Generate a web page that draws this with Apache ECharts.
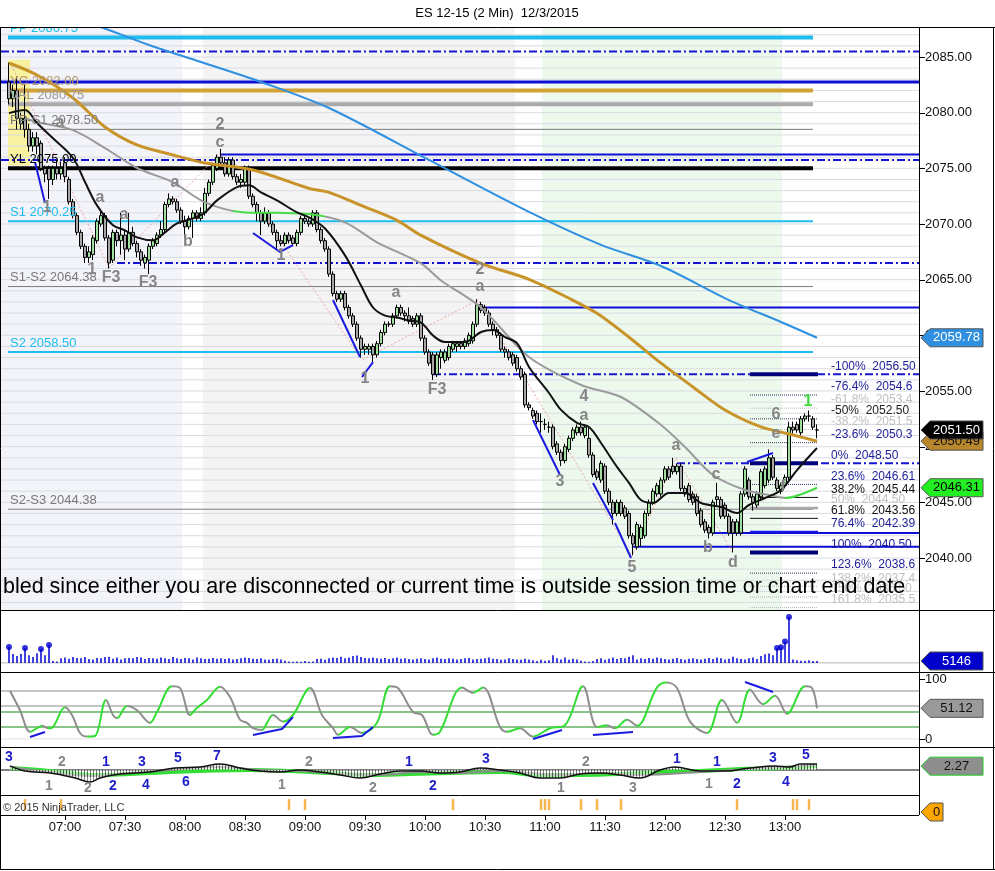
<!DOCTYPE html>
<html><head><meta charset="utf-8">
<script src="https://cdn.jsdelivr.net/npm/echarts@6.0.0/dist/echarts.min.js"></script>
<style>html,body{margin:0;padding:0;background:#fff;}#c{width:995px;height:871px;}</style>
</head><body><div id="c"></div>
<script>
// ---------------- DATA ----------------
const TITLE = 'ES 12-15 (2 Min)  12/3/2015';
const NOTICE = 'bled since either you are disconnected or current time is outside session time or chart end date';
const FIRST_BAR = 1; // bar index of first candle (index 0 = 06:30, 2-minute bars)
// [open, close, low, high]
const ohlc = [
[2082.75,2081.25,2080.75,2084.5],[2081.25,2082.0,2080.5,2082.5],[2082.0,2079.5,2078.5,2083.25],[2079.0,2079.5,2078.5,2080.0],[2079.5,2078.5,2077.75,2082.5],
[2078.5,2077.0,2076.5,2079.0],[2077.0,2077.75,2076.5,2078.25],[2077.75,2077.0,2076.25,2078.25],[2077.25,2075.0,2074.75,2077.5],[2075.0,2074.5,2073.75,2075.25],
[2075.0,2074.0,2072.25,2075.25],[2074.0,2075.0,2073.5,2075.25],[2075.0,2074.5,2074.0,2075.75],[2074.5,2075.0,2074.0,2075.5],[2075.5,2074.25,2073.75,2076.0],
[2074.0,2072.0,2071.75,2074.25],[2072.0,2070.75,2070.5,2072.25],[2070.75,2069.25,2069.0,2071.0],[2069.25,2068.0,2067.75,2069.5],[2068.0,2067.0,2066.5,2068.25],
[2067.0,2067.5,2066.5,2068.0],[2067.25,2068.75,2066.75,2069.0],[2068.5,2070.25,2068.25,2070.5],[2070.0,2070.75,2069.75,2071.25],[2070.75,2068.75,2068.5,2071.0],
[2068.75,2066.5,2066.0,2069.0],[2066.75,2069.25,2066.5,2069.5],[2069.25,2068.5,2068.0,2069.5],[2068.5,2069.0,2067.25,2071.0],[2069.0,2067.75,2066.75,2069.5],
[2067.75,2069.25,2067.5,2071.0],[2069.25,2068.25,2068.0,2069.75],[2068.25,2067.5,2067.0,2068.5],[2067.5,2066.75,2066.25,2067.75],[2066.5,2067.0,2066.0,2067.25],
[2066.75,2068.0,2065.5,2068.25],[2068.0,2068.5,2067.75,2068.75],[2068.25,2069.0,2068.0,2069.25],[2069.0,2069.5,2068.75,2070.25],[2069.5,2071.75,2069.25,2072.0],
[2071.75,2072.25,2071.5,2072.75],[2072.25,2072.0,2071.75,2072.5],[2072.0,2071.25,2071.0,2072.25],[2071.25,2070.25,2070.0,2071.5],[2070.25,2069.75,2068.75,2070.75],
[2069.75,2070.5,2069.5,2070.75],[2070.5,2071.0,2068.75,2071.25],[2071.0,2070.5,2070.25,2071.25],[2070.5,2071.0,2070.25,2071.5],[2071.0,2072.75,2070.75,2073.25],
[2072.75,2073.75,2072.5,2074.0],[2073.75,2075.25,2073.5,2075.5],[2075.0,2076.0,2074.75,2076.25],[2076.0,2075.5,2075.0,2076.75],[2075.5,2074.5,2074.25,2076.0],
[2074.5,2075.75,2074.25,2076.0],[2075.75,2074.25,2074.0,2076.0],[2074.25,2073.75,2073.5,2074.5],[2073.75,2074.0,2073.25,2074.5],[2073.75,2075.0,2073.5,2075.25],
[2075.0,2072.5,2072.25,2075.25],[2072.5,2071.75,2071.5,2072.75],[2071.75,2071.0,2070.25,2072.0],[2071.0,2070.25,2069.0,2071.25],[2070.25,2071.0,2070.0,2071.5],
[2071.0,2070.0,2069.75,2071.25],[2070.0,2069.25,2069.0,2070.25],[2069.25,2068.5,2067.75,2069.5],[2068.5,2068.25,2068.0,2069.0],[2068.25,2069.0,2068.0,2069.25],
[2069.0,2068.5,2068.25,2069.25],[2068.75,2068.25,2068.0,2069.0],[2068.25,2069.25,2068.0,2069.5],[2069.25,2070.5,2069.0,2070.75],[2070.5,2070.25,2070.0,2070.75],
[2070.25,2070.0,2069.75,2070.5],[2070.0,2071.0,2069.75,2071.25],[2071.0,2069.5,2069.25,2071.25],[2069.5,2068.5,2068.25,2069.75],[2068.5,2067.75,2067.5,2068.75],
[2067.75,2065.5,2065.25,2068.0],[2065.5,2063.75,2063.5,2065.75],[2063.75,2063.25,2063.0,2064.0],[2063.25,2063.75,2063.0,2064.0],[2063.75,2062.5,2062.25,2064.0],
[2062.5,2061.75,2061.5,2062.75],[2061.75,2061.0,2060.75,2062.0],[2061.0,2059.75,2059.5,2061.25],[2059.75,2058.75,2058.0,2060.0],[2058.75,2059.0,2058.25,2059.25],
[2058.75,2059.0,2058.25,2059.25],[2059.0,2058.25,2057.5,2059.25],[2058.25,2059.25,2058.0,2059.5],[2059.25,2060.25,2059.0,2060.5],[2060.25,2061.0,2060.0,2061.25],
[2061.0,2061.0,2060.75,2061.25],[2061.0,2061.75,2060.75,2062.0],[2061.75,2062.5,2061.5,2062.75],[2062.5,2062.0,2061.75,2062.75],[2062.0,2061.75,2061.25,2062.25],
[2061.75,2061.25,2061.0,2062.5],[2061.5,2061.0,2060.75,2061.75],[2061.0,2061.75,2060.75,2062.0],[2061.75,2059.75,2059.5,2062.0],[2059.75,2058.5,2058.25,2060.0],
[2058.5,2057.5,2057.25,2058.75],[2058.25,2056.5,2056.0,2058.5],[2056.5,2058.25,2056.25,2058.5],[2058.0,2058.5,2057.0,2058.75],[2057.75,2058.5,2057.5,2058.75],
[2058.0,2059.0,2057.75,2059.25],[2058.75,2059.25,2058.5,2059.5],[2059.0,2059.25,2058.5,2059.5],[2059.25,2059.0,2058.75,2059.5],[2059.0,2059.5,2058.75,2059.75],
[2059.25,2060.0,2059.0,2060.25],[2059.5,2061.0,2059.25,2061.25],[2061.0,2062.75,2060.75,2063.25],[2062.75,2062.25,2062.0,2063.0],[2062.5,2062.0,2061.75,2062.75],
[2062.0,2061.0,2060.75,2062.25],[2061.0,2060.5,2060.0,2061.25],[2060.5,2060.0,2059.75,2060.75],[2060.0,2058.75,2058.5,2060.25],[2058.75,2058.5,2058.0,2059.0],
[2058.5,2058.0,2057.75,2058.75],[2058.25,2057.5,2057.25,2058.5],[2058.0,2057.0,2056.75,2058.25],[2057.0,2056.25,2056.0,2057.25],[2056.5,2053.75,2053.5,2056.75],
[2053.75,2053.5,2053.25,2054.0],[2053.25,2052.75,2052.5,2053.5],[2053.0,2052.25,2052.0,2053.25],[2052.25,2052.25,2051.25,2053.0],[2052.0,2052.0,2051.5,2052.5],
[2051.75,2051.75,2051.25,2052.25],[2051.75,2050.0,2049.75,2052.0],[2050.25,2049.5,2049.25,2050.5],[2049.5,2048.75,2048.25,2049.75],[2048.75,2050.0,2048.5,2050.25],
[2049.75,2050.75,2049.5,2051.0],[2050.75,2051.5,2050.5,2051.75],[2051.25,2051.75,2051.0,2052.0],[2051.75,2051.25,2051.0,2052.25],[2051.0,2051.75,2050.75,2052.0],
[2050.75,2049.25,2049.0,2051.75],[2049.25,2047.5,2047.25,2049.5],[2047.75,2047.25,2047.0,2048.0],[2047.0,2048.5,2046.75,2048.75],[2048.25,2046.0,2045.75,2048.5],
[2046.0,2045.0,2044.75,2046.25],[2045.0,2044.0,2043.0,2045.25],[2044.0,2045.0,2043.75,2045.25],[2045.0,2044.0,2043.75,2045.25],[2044.5,2043.75,2043.5,2044.75],
[2044.0,2042.0,2041.75,2044.25],[2042.0,2041.25,2040.25,2042.25],[2041.0,2043.0,2040.75,2043.25],[2041.75,2042.75,2041.0,2043.0],[2042.0,2044.0,2041.75,2044.25],
[2044.0,2045.0,2043.75,2045.25],[2045.0,2046.0,2044.75,2046.25],[2045.75,2046.5,2045.5,2046.75],[2045.75,2047.0,2045.5,2047.25],[2047.0,2048.0,2046.75,2048.25],
[2048.0,2047.25,2047.0,2048.25],[2048.25,2047.75,2047.5,2049.0],[2047.75,2048.25,2047.5,2048.5],[2048.25,2046.25,2046.0,2048.5],[2046.25,2045.75,2045.5,2046.5],
[2046.5,2045.25,2045.0,2046.75],[2045.75,2045.0,2044.75,2046.0],[2045.5,2044.0,2043.75,2045.75],[2044.25,2043.0,2042.75,2044.5],[2043.25,2042.5,2042.25,2043.5],
[2042.75,2042.25,2041.75,2043.0],[2042.25,2045.0,2042.0,2045.25],[2045.5,2045.25,2044.75,2046.75],[2045.25,2043.75,2043.5,2045.5],[2044.75,2043.75,2043.5,2045.0],
[2043.75,2042.25,2042.0,2044.0],[2043.25,2042.25,2040.5,2043.5],[2042.25,2043.25,2042.0,2043.5],[2042.25,2045.75,2042.0,2046.0],[2045.75,2048.0,2045.5,2048.25],
[2047.0,2045.5,2045.25,2047.25],[2045.5,2045.0,2044.25,2045.75],[2044.75,2045.75,2044.5,2046.0],[2045.5,2047.75,2045.25,2048.0],[2046.5,2048.0,2046.25,2048.25],
[2047.0,2049.0,2046.75,2049.75],[2049.0,2047.25,2047.0,2049.25],[2047.0,2046.25,2046.0,2047.25],[2046.0,2046.5,2045.75,2046.75],[2046.5,2047.25,2046.25,2047.5],
[2047.25,2051.75,2047.0,2052.25],[2051.75,2051.5,2051.0,2052.25],[2052.0,2051.5,2051.25,2052.25],[2051.25,2052.5,2051.0,2052.75],[2052.5,2052.75,2052.25,2053.0],
[2052.75,2052.75,2052.25,2053.25],[2052.5,2051.75,2051.5,2052.75],[2051.5,2051.5,2050.75,2052.0]
];
const volume = [
41000,23000,18000,23000,38000,20000,15000,25000,36000,20000,46000,
5000,4000,12000,14000,11000,15000,13000,12000,15000,10000,
9000,13000,12000,15000,16000,11000,14000,9000,12000,13000,
12000,15000,14000,10000,13000,12000,11000,14000,12000,10000,
15000,12000,10000,13000,12000,9000,14000,12000,10000,11000,
13000,11000,12000,10000,12000,9000,10000,12000,14000,13000,
11000,10000,12000,9000,8000,10000,11000,9000,6000,4000,
3000,4000,3000,5000,3000,4000,10000,11000,8000,12000,
14000,13000,16000,12000,14000,18000,19000,15000,13000,12000,
14000,12000,11000,13000,10000,12000,14000,11000,12000,10000,
9000,11000,12000,10000,9000,12000,14000,11000,10000,12000,
11000,9000,10000,12000,13000,9000,10000,11000,12000,14000,
11000,10000,8000,9000,12000,10000,9000,8000,11000,9000,
7000,5000,8000,6000,7000,20000,12000,9000,14000,8000,
11000,9000,6000,4000,3000,5000,10000,12000,8000,11000,
14000,10000,13000,12000,16000,20000,9000,12000,10000,13000,
11000,14000,12000,10000,9000,11000,13000,10000,8000,11000,
12000,10000,9000,11000,13000,10000,14000,12000,9000,11000,
16000,12000,10000,9000,
12000,14000,10000,18000,22000,24000,20000,38000,40000,55000,117000,9000,7000,6000,6000,7000,5000,5146
];
// moving averages  [barIndex, price]
const maBlue = [[18,2088.4],[26,2087.43],[36,2086.08],[49,2084.55],[64,2082.76],[81,2080.42],[106,2075.75],[131,2071.08],[149,2068.12],[164,2066.23],[181,2063.17],[194,2061.2],[203,2059.78]];
const maGold = [[1,2084.46],[8,2083.38],[17,2081.32],[25,2078.71],[33,2077.1],[42,2076.2],[50,2075.48],[62,2074.85],[76,2073.2],[81,2072.84],[89,2071.67],[98,2070.33],[104,2068.98],[119,2066.47],[131,2065.03],[141,2063.33],[148,2061.98],[156,2059.83],[164,2057.5],[172,2055.36],[180,2053.29],[189,2051.77],[197,2051.05],[203,2050.49]];
const maGray = [[5,2079.52],[8,2079.16],[17,2078.43],[25,2076.82],[33,2075.03],[42,2073.74],[50,2071.94],[60,2071.04],[68,2071.0],[76,2070.9],[85,2070.15],[93,2068.35],[104,2066.46],[109,2064.93],[119,2062.5],[131,2058.05],[144,2055.54],[154,2054.46],[164,2051.95],[170,2049.97],[177,2047.46],[185,2046.11],[191,2045.66],[195,2045.39],[203,2046.31]];
const maGrayUpRanges = [[57,80],[195,204]];
const maBlack = [[1,2079.96],[5,2080.24],[8,2079.07],[12,2077.7],[17,2075.93],[20,2073.77],[23,2071.67],[27,2069.88],[30,2069.43],[33,2068.8],[37,2068.53],[40,2069.25],[43,2070.06],[47,2070.5],[50,2071.04],[53,2072.12],[58,2073.32],[61,2073.47],[64,2072.84],[68,2072.12],[73,2071.04],[76,2070.6],[80,2069.6],[85,2067.18],[89,2064.48],[92,2062.5],[95,2061.77],[98,2061.6],[101,2061.33],[104,2061.15],[107,2059.98],[110,2059.4],[115,2059.4],[119,2060.3],[122,2060.48],[125,2059.85],[128,2059.3],[131,2057.16],[136,2054.82],[139,2053.3],[143,2052.13],[146,2051.77],[149,2050.33],[153,2048.18],[156,2046.74],[159,2045.2],[162,2044.94],[166,2045.84],[170,2045.84],[174,2044.94],[179,2044.58],[183,2044.04],[186,2044.76],[190,2045.39],[194,2046.11],[198,2047.9],[203,2049.88]];
const zigzag = [[1.25,2084.55],[26,2066.05],[53.75,2076.38],[89.25,2057.79],[118.25,2063.17],[156.75,2040.18],[167.75,2048.98],[182,2040.45]];
const trendLines = [
 [[7.5,2075.57],[10,2071.89]],
 [[62,2069.19],[68.75,2067.49],[72,2068.11]],
 [[82,2063.17],[88.75,2058.05]],
 [[89.25,2056.26],[92,2057.6]],
 [[132,2052.4],[138.75,2047.46]],
 [[147,2046.74],[152,2043.41]],
 [[152.5,2043.14],[156.5,2040.0]],
 [[185.5,2048.62],[192,2049.43]]
];
// pivots
const pivotNames = ['PP','YC','VAL','PP-S1','YL','S1','S1-S2','S2','S2-S3'];
const pivotValues = [2086.75,2082.00,2080.75,2078.50,2075.00,2070.25,2064.38,2058.50,2044.38];
// swing levels (start bar)
const dashLevels = [2085.5,2075.75,2066.5,2056.5,2048.5];
const dashStart  = [-1,-1,28,107,168];
const solidLevels = [2082.75,2076.25,2062.5,2042.25,2041.0];
const solidStart  = [-1,54,118,177,157];
// fibonacci
const fibPct = ['-100%','-76.4%','-61.8%','-50%','-38.2%','-23.6%','0%','23.6%','38.2%','50%','61.8%','76.4%','100%','123.6%','138.2%','150%','161.8%'];
const fibValues = [2056.50,2054.64,2053.46,2052.50,2051.54,2050.36,2048.50,2046.61,2045.44,2044.50,2043.56,2042.39,2040.50,2038.64,2037.46,2036.50,2035.54];
const fibKind = ['N','D','L','D','L','D','N','D','S','G','S','B','N','D','L','L','L'];
const fibRange = [186.25,203.25];
// sessions (bar index ranges)
const sessions = [[-1,44.25,'#f3f4f9'],[49.5,127.5,'#f4f4f4'],[134.25,194.25,'#edf9ed']];
const yellowBox = [[0.75,2084.75],[6.25,2075.25]];
// wave labels
const waveText = ['1','a','1','a','F3','a','F3','a','b','2','c','1','1','a','F3','2','a','3','4','a','5','a','b','c','d','6','e','f','1'];
const waveBar  = [10.5,13.75,21.75,23.75,26.5,29.75,35.75,42.5,45.75,53.75,53.75,69,90,97.75,108,118.75,118.75,138.75,144.75,144.75,156.75,167.75,175.75,177.75,182,192.75,192.75,194.5,200.75];
const wavePrice= [2071.44,2079.07,2065.87,2072.34,2065.15,2070.81,2064.7,2073.68,2068.38,2078.89,2077.28,2067.13,2056.08,2063.8,2055.09,2065.87,2064.34,2046.83,2054.46,2052.75,2039.1,2050.06,2040.9,2047.46,2039.55,2052.84,2051.14,2046.38,2054.01];
// stochastic
const stochPts = [[1.25,80],[3.75,48],[6.25,12],[8,18],[9.25,22],[10.75,18],[12,20],[15,53],[16.75,40],[18.75,10],[20.5,4],[22.5,5],[25.25,65],[27,40],[28,35],[30.5,55],[33,48],[36.25,27],[38,45],[41.75,88],[43.75,85],[46.25,40],[48,52],[50.5,65],[53.75,87],[56.25,70],[58.75,32],[60.5,27],[62,18],[64.25,15],[65.5,27],[67,40],[69.5,29],[72,40],[76.25,85],[79.25,40],[82,18],[83.25,7],[86.25,20],[89.25,10],[93,27],[96.25,88],[98.25,85],[102,45],[104.25,40],[107,7],[108.75,12],[114.25,86],[117,77],[119.5,86],[123.75,20],[125.5,12],[128.75,18],[132,4],[136.25,18],[140,23],[144.5,88],[148,20],[150.5,23],[152.5,18],[155.5,32],[158,22],[163,86],[165.5,94],[168,85],[171.25,29],[175.5,10],[179.25,65],[183,27],[186.25,82],[189.5,58],[192.5,72],[195.5,42],[200,88],[201.75,85],[203,51.12]];
const stochLevels = [80,55,45,20,0];
const stochTrend = [
 [[6.25,3.3],[10,11.7]],
 [[62,6.7],[69.25,16.7],[72,36.7]],
 [[82,1.7],[89.25,5],[92,20]],
 [[132,0],[139.25,15]],
 [[147,6.7],[157,11.7]],
 [[185,95],[192,78.3]]
];
// oscillator
const oscGreen = [[1.25,1.2],[8.75,0],[16.25,-1.8],[23.75,-2.9],[31.25,-2.4],[41.25,-1.2],[48.75,-0.6],[61.25,0],[71.25,-0.6],[81.25,-1.8],[91.25,-2.9],[101.25,-2.4],[111.25,-1.8],[123.75,-1.2],[133.75,-2.9],[143.75,-2.9],[153.75,-2.4],[163.75,-1.2],[173.75,-0.6],[183.75,0.6],[193.75,1.2],[203,2.27]];
const oscBlack = [[1.25,2.4],[5,-0.6],[11.25,-1.8],[17.5,-4.7],[21.25,-7.1],[23.75,-4.7],[28.75,-2.4],[36.25,-1.2],[42.5,1.2],[48.75,1.8],[53.75,3.5],[58.75,1.2],[63.75,-0.6],[68.75,-1.2],[73.75,0],[78.75,-1.2],[83.75,-2.9],[88.75,-4.7],[93.75,-2.4],[98.75,-0.6],[103.75,-0.6],[108.75,-1.8],[113.75,-1.2],[118.75,1.2],[123.75,0],[128.75,-1.8],[133.75,-4.7],[138.75,-4.7],[143.75,-2.4],[148.75,-1.8],[153.75,-2.9],[158.75,-4.7],[163.75,0],[167.5,1.8],[173.75,-0.6],[180,-0.6],[186.25,1.2],[192.5,2.4],[196.25,1.8],[198.75,3.5],[203,3.5]];
const oscGray = [[1.25,1.8],[11.25,-1.2],[21.25,-3.5],[31.25,-1.8],[41.25,0],[53.75,1.8],[63.75,0],[73.75,-0.6],[83.75,-2.4],[93.75,-2.9],[103.75,-1.2],[113.75,-1.8],[123.75,-0.6],[138.75,-2.9],[148.75,-1.8],[158.75,-2.9],[173.75,-1.2],[186.25,0.6],[198.75,2.4],[203,2.9]];
const oscLabelText = ['3','2','1','2','1','2','3','4','5','6','7','2','1','2','1','2','3','2','1','3','1','1','1','2','3','4','5'];
const oscLabelBar  = [1,14.25,11,20.75,25.25,27,34.25,35.25,43.25,45.25,53,76,69.25,92,101,107,120.25,145.25,139,157,168,178,176,183,192,195.25,200.25];
const oscLabelVal  = [7.6,4.7,-9.4,-10.6,4.7,-9.4,4.7,-8.8,7.1,-7.1,8.2,4.7,-8.8,-10.6,4.7,-9.4,6.5,4.7,-10.6,-10.6,6.5,4.7,-8.2,-8.2,7.1,-7.1,8.8];
const oscLabelBlue = [1,0,0,0,1,1,1,1,1,1,1,0,0,0,1,1,1,0,0,0,1,1,0,1,1,1,1];
// marker panel
const markerBars = [5,14,71,75,112,134,135,136,144,148,154,183,197,198,201];
// axes ticks
const priceTicks = [2040,2045,2050,2055,2060,2065,2070,2075,2080,2085];
const stochTicks = [0,100];
const timeTickBars = [15,30,45,60,75,90,105,120,135,150,165,180,195];

// ---------------- CHART ----------------
const FONT = '"Liberation Sans", Arial, sans-serif';
const chart = echarts.init(document.getElementById('c'));
const fmtTime = k => { const m = 390 + 2*k; return String(Math.floor(m/60)).padStart(2,'0') + ':' + String(m%60).padStart(2,'0'); };
const XMIN = -1, XMAX = 228.5;
const grids = [
  {left:1, right:76, top:27, height:583},
  {left:1, right:76, top:612, height:51},
  {left:1, right:76, top:679, height:60},
  {left:1, right:76, top:747, height:48},
  {left:1, right:76, top:795, height:20}
];
const xAxes = grids.map((g,i)=>({type:'value', gridIndex:i, min:XMIN, max:XMAX, show: i===4,
  axisLine:{show:false}, splitLine:{show:false},
  axisTick: i===4 ? {show:true, customValues: timeTickBars, length:5, lineStyle:{color:'#000'}} : {show:false},
  axisLabel: i===4 ? {show:true, customValues: timeTickBars, formatter: fmtTime, color:'#111', fontSize:13, fontFamily:FONT, margin:6} : {show:false}
}));
const yAxes = [
  {type:'value', gridIndex:0, position:'right', min:2035.329, max:2087.695, axisLine:{show:false}, splitLine:{show:false},
   axisTick:{show:false},
   axisLabel:{show:true, customValues: priceTicks, formatter: v=>v.toFixed(2), color:'#111', fontSize:13, fontFamily:FONT, margin:6}},
  {type:'value', gridIndex:1, min:0, max:130000, show:false},
  {type:'value', gridIndex:2, position:'right', min:0, max:100, axisLine:{show:false}, splitLine:{show:false},
   axisTick:{show:false},
   axisLabel:{show:true, customValues: stochTicks, color:'#111', fontSize:13, fontFamily:FONT, margin:6}},
  {type:'value', gridIndex:3, min:-14.7, max:13.53, show:false},
  {type:'value', gridIndex:4, min:0, max:1, show:false}
];

const series = [];
const push = s => { s.animation = false; s.silent = true; series.push(s); return series.length-1; };
const seg = (g, pts, color, width, type, z, smooth) => push({type:'line', xAxisIndex:g, yAxisIndex:g, data:pts, symbol:'none', z:z||2, smooth: smooth||false,
  lineStyle: color ? {color, width, type: type||'solid'} : {width, type: type||'solid'}});

// backgrounds: sessions + yellow box
push({type:'line', xAxisIndex:0, yAxisIndex:0, data:[], z:0,
  markArea:{silent:true, z:0, data: sessions.map(s=>[{xAxis:s[0], itemStyle:{color:s[2]}},{xAxis:s[1]}]).concat([[{coord:yellowBox[0], itemStyle:{color:'rgba(250,240,130,0.75)'}},{coord:yellowBox[1]}]])}});
// horizontal grid every 1 point
const gridPrices = [];
for (let p = 2036; p <= 2087; p++) gridPrices.push(p);
gridPrices.forEach(p => seg(0, [[XMIN,p],[XMAX,p]], '#d9dce3', 1, 'solid', 1));

// pivot lines
const pivotStyle = {
  'PP':['#1ebcf0',4],'YC':['#d2a236',4],'VAL':['#aaaaaa',4],'PP-S1':['#7a7a7a',1],'YL':['#000000',4],
  'S1':['#1ebcf0',2],'S1-S2':['#7a7a7a',1],'S2':['#1ebcf0',2],'S2-S3':['#7a7a7a',1]};
pivotNames.forEach((n,i)=>{ const st = pivotStyle[n]; seg(0, [[0.75,pivotValues[i]],[202,pivotValues[i]]], st[0], st[1], 'solid', 2); });
dashLevels.forEach((p,i)=> seg(0, [[dashStart[i],p],[XMAX,p]], '#1616d2', 2, [8,3,2,3], 2));
solidLevels.forEach((p,i)=> seg(0, [[solidStart[i],p],[XMAX,p]], '#0e0ed6', i===0?3:2, 'solid', 2));
// fib lines
const fibStyle = {N:['#00007a',4,'solid'], D:['#333366',1,'dotted'], L:['#b5b5b5',1,'dotted'], S:['#111',1,'solid'], G:['#a9a9a9',2.5,'solid'], B:['#1a1af0',1.5,'solid']};
fibValues.forEach((v,i)=>{ const st = fibStyle[fibKind[i]]; seg(0, [[fibRange[0],v],[fibRange[1],v]], st[0], st[1], st[2], 2); });
// zigzag
seg(0, zigzag, '#eca7a7', 1, [2,2], 2);

// candles
push({type:'candlestick', xAxisIndex:0, yAxisIndex:0, z:3, barWidth:3,
  data: ohlc.map((r,i)=>[FIRST_BAR+i, r[0], r[1], r[2], r[3]]), encode:{x:0, y:[1,2,3,4]},
  itemStyle:{color:'#9fe09f', color0:'#a7a7a7', borderColor:'#000', borderColor0:'#000', borderColorDoji:'#000', borderWidth:1}});

// moving averages
seg(0, maBlue, '#2f8fe0', 2, 'solid', 4, 0.3);
seg(0, maGold, '#c8942a', 3, 'solid', 4, 0.3);
const grayIdx = seg(0, maGray, null, 2, 'solid', 4, 0.3);
seg(0, maBlack, '#111111', 2, 'solid', 5, 0.35);
// trend lines
trendLines.forEach(t => seg(0, t, '#1a1ae0', 2, 'solid', 6));

// volume
push({type:'bar', xAxisIndex:1, yAxisIndex:1, barWidth:1.5, z:3, itemStyle:{color:'#0000d0'},
  data: volume.map((v,i)=>[FIRST_BAR+i, v])});
push({type:'scatter', xAxisIndex:1, yAxisIndex:1, symbolSize:6, z:4, itemStyle:{color:'#0000d0'},
  data: volume.map((v,i)=>[FIRST_BAR+i, v]).filter(d=>d[1] > 30000)});
seg(1, [[XMIN,0],[XMAX,0]], '#9a9a9a', 1, 'solid', 2);

// stochastic
const stochLvlColor = ['#8a8a8a','#8a8a8a','#138a13','#138a13','#d8d8d8'];
stochLevels.forEach((v,i)=> seg(2, [[XMIN,v],[XMAX,v]], stochLvlColor[i], 1, 'solid', 2));
const stochIdx = seg(2, stochPts, null, 2, 'solid', 4, 0.35);
stochTrend.forEach(t => seg(2, t, '#1a1ae0', 2, 'solid', 5));

// oscillator (hatched area under the fast line)
const hatch = document.createElement('canvas'); hatch.width = 3; hatch.height = 2;
{ const c = hatch.getContext('2d'); c.fillStyle = '#ffffff'; c.fillRect(0,0,3,2); c.fillStyle = '#222'; c.fillRect(0,0,1,2); }
seg(3, [[XMIN,0],[XMAX,0]], '#000', 1, 'solid', 2);
const oscBlackIdx = seg(3, oscBlack, '#111', 1.5, 'solid', 5, 0.4);
series[oscBlackIdx].areaStyle = {color:{image:hatch, repeat:'repeat'}, opacity:0.55, origin:0};
seg(3, oscGreen, '#33dd33', 4, 'solid', 3, 0.4);
seg(3, oscGray, '#8e8e8e', 2, 'solid', 4, 0.4);

// marker panel
push({type:'scatter', xAxisIndex:4, yAxisIndex:4, symbol:'rect', symbolSize:[2.5,11], z:3, itemStyle:{color:'#f2a323'},
  data: markerBars.map(k=>[k,0.52])});

// visual maps: rising stochastic = green ; gray MA rising sections green
const stochPieces = [];
for (let i=0;i<stochPts.length-1;i++) if (stochPts[i+1][1] > stochPts[i][1]) stochPieces.push({gte:stochPts[i][0], lt:stochPts[i+1][0], color:'#33dd33'});
const visualMap = [
  {type:'piecewise', show:false, seriesIndex:stochIdx, dimension:0, pieces:stochPieces, outOfRange:{color:'#8e8e8e'}},
  {type:'piecewise', show:false, seriesIndex:grayIdx, dimension:0, pieces:maGrayUpRanges.map(r=>({gte:r[0], lt:r[1], color:'#44dd44'})), outOfRange:{color:'#9a9a9a'}}
];

chart.setOption({animation:false, backgroundColor:'#ffffff', grid:grids, xAxis:xAxes, yAxis:yAxes, series, visualMap});

// ---------------- GRAPHIC OVERLAYS ----------------
const px = (g,k,v) => chart.convertToPixel({gridIndex:g}, [k,v]);
const G = [];
const txt = (x,y,text,opt) => { opt=opt||{}; G.push({type:'text', x, y, z: opt.z||50, silent:true, style:Object.assign({text, fill:opt.color||'#000', font:opt.font||('13px '+FONT), align:opt.align||'left', textAlign:opt.align||'left', verticalAlign:'middle', textVerticalAlign:'middle'}, opt.extra||{})}); };
const line = (x1,y1,x2,y2,color,w,z) => G.push({type:'line', z:z||60, silent:true, shape:{x1,y1,x2,y2}, style:{stroke:color, lineWidth:w||1}});

// right axis ticks
priceTicks.forEach(v=>{ const y = Math.round(px(0,0,v)[1])+0.5; line(919,y,925,y,'#000',1); });
stochTicks.forEach(v=>{ const y = Math.round(px(2,0,v)[1])+0.5; line(919,y,925,y,'#000',1); });

// pivot labels
const pivotLabelColor = {'PP':'#1ebcf0','YC':'#b49a68','VAL':'#9a9a9a','PP-S1':'#7a7a7a','YL':'#000','S1':'#1ebcf0','S1-S2':'#7a7a7a','S2':'#1ebcf0','S2-S3':'#7a7a7a'};
pivotNames.forEach((n,i)=>{ const p = px(0, 1.25, pivotValues[i]); txt(10, p[1]-9, n+' '+pivotValues[i].toFixed(2), {color:pivotLabelColor[n], z:8}); });
// fib labels
const fibLabelColor = {N:'#1c1c9a', D:'#1c1c9a', L:'#c0c0c0', S:'#111', G:'#c0c0c0', B:'#1c1c9a'};
const fibColorOverride = {'-50%':'#222','123.6%':'#1c1c9a','150%':'#c0c0c0'};
fibValues.forEach((v,i)=>{ const p = px(0, 0, v); const c = fibColorOverride[fibPct[i]] || fibLabelColor[fibKind[i]];
  txt(831, p[1]-8, fibPct[i]+'  '+v.toFixed(2), {color:c, z:8, font:'12px '+FONT, extra:{width:88, overflow:'truncate', ellipsis:''}}); });
// wave labels
waveText.forEach((t,i)=>{ const p = px(0, waveBar[i], wavePrice[i]); txt(p[0], p[1], t, {align:'center', color: i===waveText.length-1 ? '#3fd83f' : '#858585', font:'bold 16px '+FONT, z:20}); });
// osc labels
oscLabelText.forEach((t,i)=>{ const p = px(3, oscLabelBar[i], oscLabelVal[i]); txt(p[0], p[1], t, {align:'center', color: oscLabelBlue[i] ? '#1e1ec8' : '#858585', font:'bold 14px '+FONT, z:20}); });
// notice text
txt(3, 587, NOTICE, {font:'21.5px '+FONT, color:'#000', z:30});
// cover above chart frame and title
G.push({type:'rect', z:40, silent:true, shape:{x:0,y:0,width:995,height:27}, style:{fill:'#fff'}});
txt(497, 13, TITLE, {align:'center', color:'#000', z:41});
// copyright
txt(3, 808, '\u00a9 2015 NinjaTrader, LLC', {font:'11px '+FONT, color:'#333', z:30});
// frame lines
line(0,27.5,995,27.5,'#000',1);
line(0.5,27,0.5,870,'#000',1);
line(993.5,27,993.5,870,'#000',1);
line(0,869.5,995,869.5,'#000',1);
line(919.5,27,919.5,815,'#000',1);
[610.5,672.5,747.5].forEach(y=>line(0,y,995,y,'#000',1));
[795.5,815.5].forEach(y=>line(0,y,919,y,'#000',1));
// price tags
const tag = (y, text, fill, color, w, stroke) => {
  G.push({type:'polygon', z:70, silent:true, shape:{points:[[921,y],[930,y-9],[921+w,y-9],[921+w,y+9],[930,y+9]]}, style:{fill, stroke:stroke||'#555', lineWidth:1}});
  txt(930+(w-9)/2, y, text, {align:'center', color, z:71});
};
const last = a => a[a.length-1];
tag(px(0,0,last(maBlue)[1])[1], last(maBlue)[1].toFixed(2), '#2f8fe0', '#fff', 62);
tag(px(0,0,last(maGray)[1])[1], last(maGray)[1].toFixed(2), '#22ee22', '#000', 62);
tag(px(0,0,last(maGold)[1])[1], last(maGold)[1].toFixed(2), '#b8862b', '#111', 62);
tag(px(0,0,last(ohlc)[1])[1], last(ohlc)[1].toFixed(2), '#000', '#fff', 62);
tag(px(1,0,last(volume))[1], String(last(volume)), '#0000cc', '#fff', 62);
tag(px(2,0,last(stochPts)[1])[1], last(stochPts)[1].toFixed(2), '#9a9a9a', '#111', 62);
tag(px(3,0,last(oscGreen)[1])[1], last(oscGreen)[1].toFixed(2), '#8e8e8e', '#111', 62, '#22cc22');
tag(px(4,0,0.15)[1], '0', '#ffa500', '#111', 22);

chart.setOption({graphic:{elements:G}});
</script></body></html>
